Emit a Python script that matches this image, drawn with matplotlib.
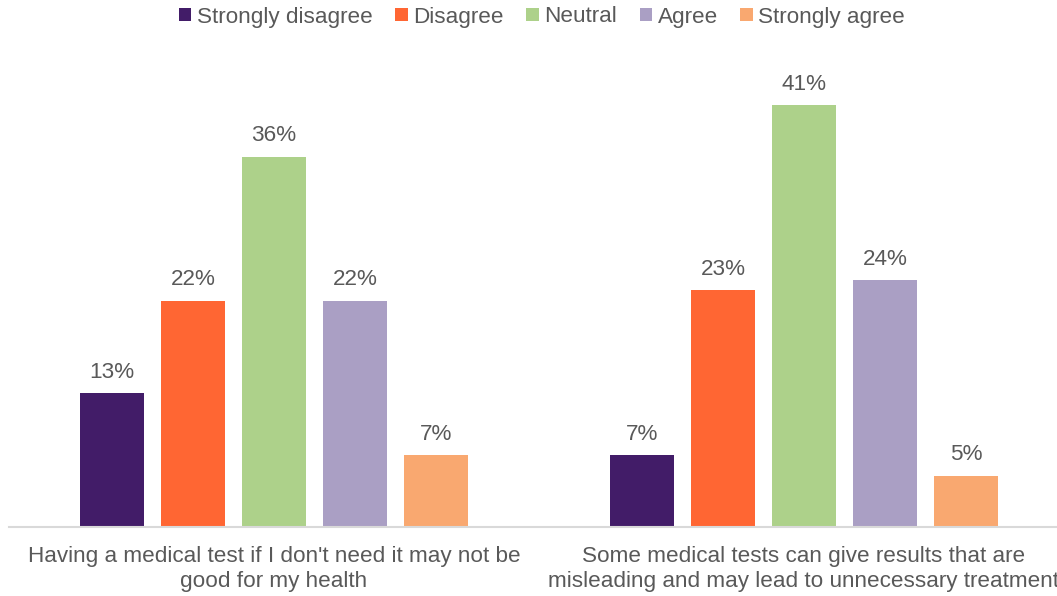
import matplotlib.pyplot as plt
import numpy as np

plt.rcParams['font.family'] = ['Liberation Sans', 'DejaVu Sans']

# Survey responses (percent)
statements = ["Having a medical test if I don't need it may not be\ngood for my health",
              "Some medical tests can give results that are\nmisleading and may lead to unnecessary treatment"]
responses = ["Strongly disagree", "Disagree", "Neutral", "Agree", "Strongly agree"]
strongly_disagree = [13, 7]
disagree = [22, 23]
neutral = [36, 41]
agree = [22, 24]
strongly_agree = [7, 5]

values = [strongly_disagree, disagree, neutral, agree, strongly_agree]
colors = ["#421C68", "#FF6633", "#ADD18A", "#AA9FC4", "#F9A870"]
text_color = "#595959"
fs = 16.2

fig = plt.figure(figsize=(10.57, 5.96), dpi=100)
ax = fig.add_axes([9 / 1057, 69 / 596, 1060 / 1057, 463 / 596])

x = np.arange(len(statements))
width = 0.1208
step = 0.1528

for i, (name, vals, col) in enumerate(zip(responses, values, colors)):
    pos = x + (i - 2) * step
    bars = ax.bar(pos, vals, width, color=col, label=name)
    for b, v in zip(bars, vals):
        ax.text(b.get_x() + b.get_width() / 2, v + 1.0, f"{v}%",
                ha="center", va="bottom", fontsize=fs, color=text_color)

ax.set_xlim(-0.5, 1.5)
ax.set_ylim(0, 45)
ax.set_xticks(x)
ax.set_xticklabels(statements, fontsize=fs, color=text_color, linespacing=1.22)
ax.tick_params(axis="x", length=0, pad=14)
ax.set_yticks([])
for side in ["top", "right", "left"]:
    ax.spines[side].set_visible(False)
ax.spines["bottom"].set_color("#D9D9D9")
ax.spines["bottom"].set_linewidth(1.5)

leg = fig.legend(loc="center", bbox_to_anchor=(542 / 1057, 1 - 17 / 596), ncol=5,
                 frameon=False, fontsize=fs, handlelength=0.55, handleheight=0.55,
                 handletextpad=0.25, columnspacing=1.0)
for t in leg.get_texts():
    t.set_color(text_color)

plt.savefig("out.png")
